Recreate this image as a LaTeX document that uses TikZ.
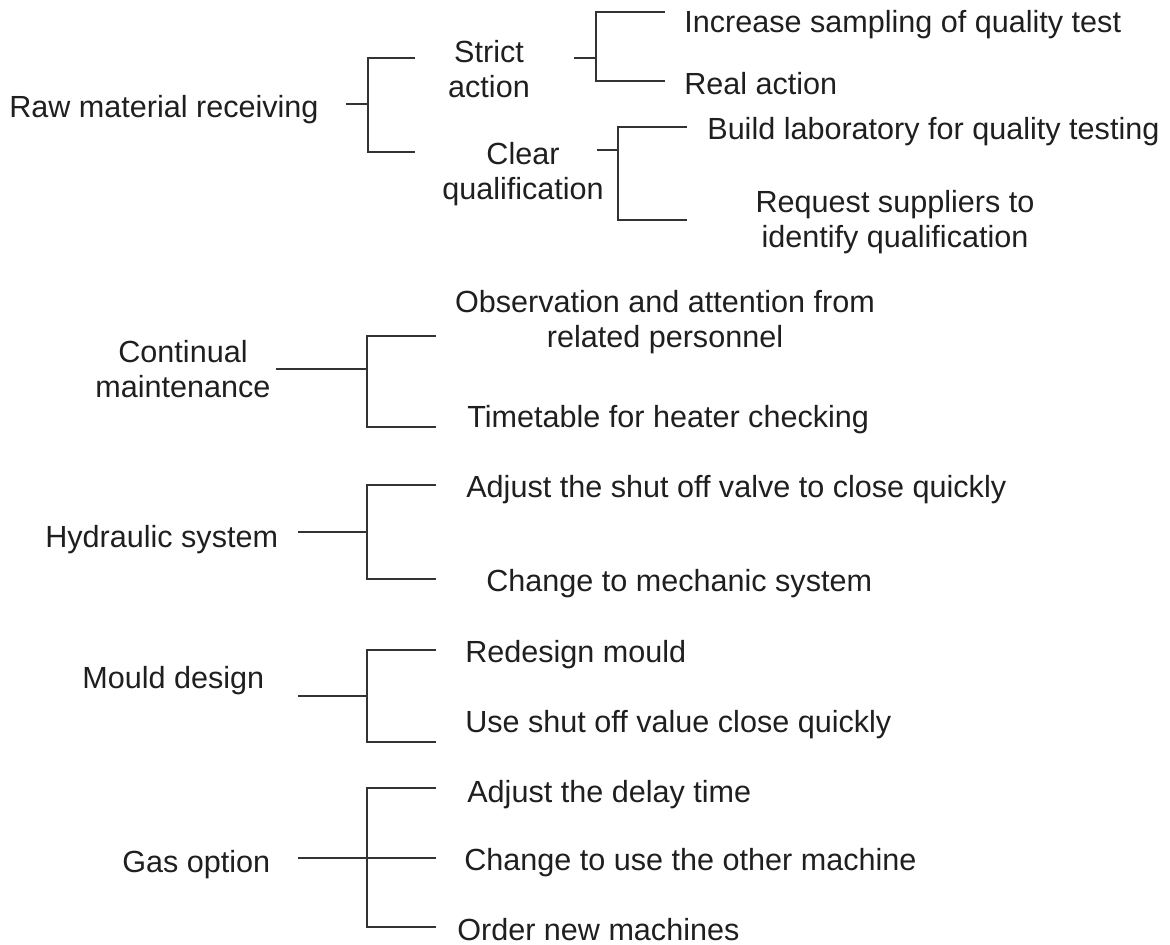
\documentclass[tikz,border=0pt]{standalone}
\usepackage{fontspec}
\setmainfont{Liberation Sans}
\tikzset{
  lbl/.style={anchor=base west, inner sep=0pt, text=black!88, font=\fontsize{17.4}{20}\selectfont},
  lblc/.style={anchor=base, inner sep=0pt, align=center, text=black!88, font=\fontsize{17.4}{20}\selectfont},
  brk/.style={draw=black!80, line width=.9pt}
}
\begin{document}
\begin{tikzpicture}[x=0.02cm,y=-0.02cm]
\useasboundingbox (0,0) rectangle (1170,945);
% raw material receiving
\node[lbl] (raw) at (9,118) {Raw material receiving};
\node[lblc] (strict) at (489,98) {Strict\\action};
\node[lblc] (clear) at (523,200) {Clear\\qualification};
\node[lbl] (incr) at (684,33) {Increase sampling of quality test};
\node[lbl] (real) at (684,95) {Real action};
\node[lbl] (build) at (707,140) {Build laboratory for quality testing};
\node[lblc] (request) at (895,248) {Request suppliers to\\identify qualification};
\coordinate (raw-s) at (346,104); \coordinate (raw-j) at (368,104);
\coordinate (strict-a) at (415,58); \coordinate (clear-a) at (415,152);
\draw[brk] (raw-s) -- (raw-j);
\draw[brk] (strict-a) -| (raw-j) |- (clear-a);
\coordinate (strict-s) at (574,58); \coordinate (strict-j) at (596,58);
\coordinate (incr-a) at (665,12); \coordinate (real-a) at (665,81);
\draw[brk] (strict-s) -- (strict-j);
\draw[brk] (incr-a) -| (strict-j) |- (real-a);
\coordinate (clear-s) at (597,150); \coordinate (clear-j) at (618,150);
\coordinate (build-a) at (687,127); \coordinate (request-a) at (687,220);
\draw[brk] (clear-s) -- (clear-j);
\draw[brk] (build-a) -| (clear-j) |- (request-a);
% continual maintenance
\node[lblc] (cont) at (183,398) {Continual\\maintenance};
\node[lblc] (obs) at (665,348) {Observation and attention from\\related personnel};
\node[lbl] (time) at (467,428) {Timetable for heater checking};
\coordinate (cont-s) at (276,369); \coordinate (cont-j) at (367,369);
\coordinate (obs-a) at (436,336); \coordinate (time-a) at (436,427);
\draw[brk] (cont-s) -- (cont-j);
\draw[brk] (obs-a) -| (cont-j) |- (time-a);
% hydraulic system
\node[lbl] (hyd) at (45,548) {Hydraulic system};
\node[lbl] (adj) at (466,498) {Adjust the shut off valve to close quickly};
\node[lbl] (mech) at (486,592) {Change to mechanic system};
\coordinate (hyd-s) at (298,532); \coordinate (hyd-j) at (367,532);
\coordinate (adj-a) at (436,485); \coordinate (mech-a) at (436,579);
\draw[brk] (hyd-s) -- (hyd-j);
\draw[brk] (adj-a) -| (hyd-j) |- (mech-a);
% mould design
\node[lbl] (mould) at (82,688) {Mould design};
\node[lbl] (redesign) at (465,663) {Redesign mould};
\node[lbl] (valve) at (465,732) {Use shut off value close quickly};
\coordinate (mould-s) at (298,696); \coordinate (mould-j) at (367,696);
\coordinate (redesign-a) at (436,650); \coordinate (valve-a) at (436,742);
\draw[brk] (mould-s) -- (mould-j);
\draw[brk] (redesign-a) -| (mould-j) |- (valve-a);
% gas option
\node[lbl] (gas) at (122,872) {Gas option};
\node[lbl] (delay) at (467,802) {Adjust the delay time};
\node[lbl] (other) at (464,870) {Change to use the other machine};
\node[lbl] (order) at (457,940) {Order new machines};
\coordinate (gas-s) at (298,858); \coordinate (gas-j) at (367,858);
\coordinate (delay-a) at (436,788); \coordinate (other-a) at (436,858);
\coordinate (order-a) at (436,927);
\draw[brk] (gas-s) -- (other-a);
\draw[brk] (delay-a) -| (gas-j) |- (order-a);
\end{tikzpicture}
\end{document}
